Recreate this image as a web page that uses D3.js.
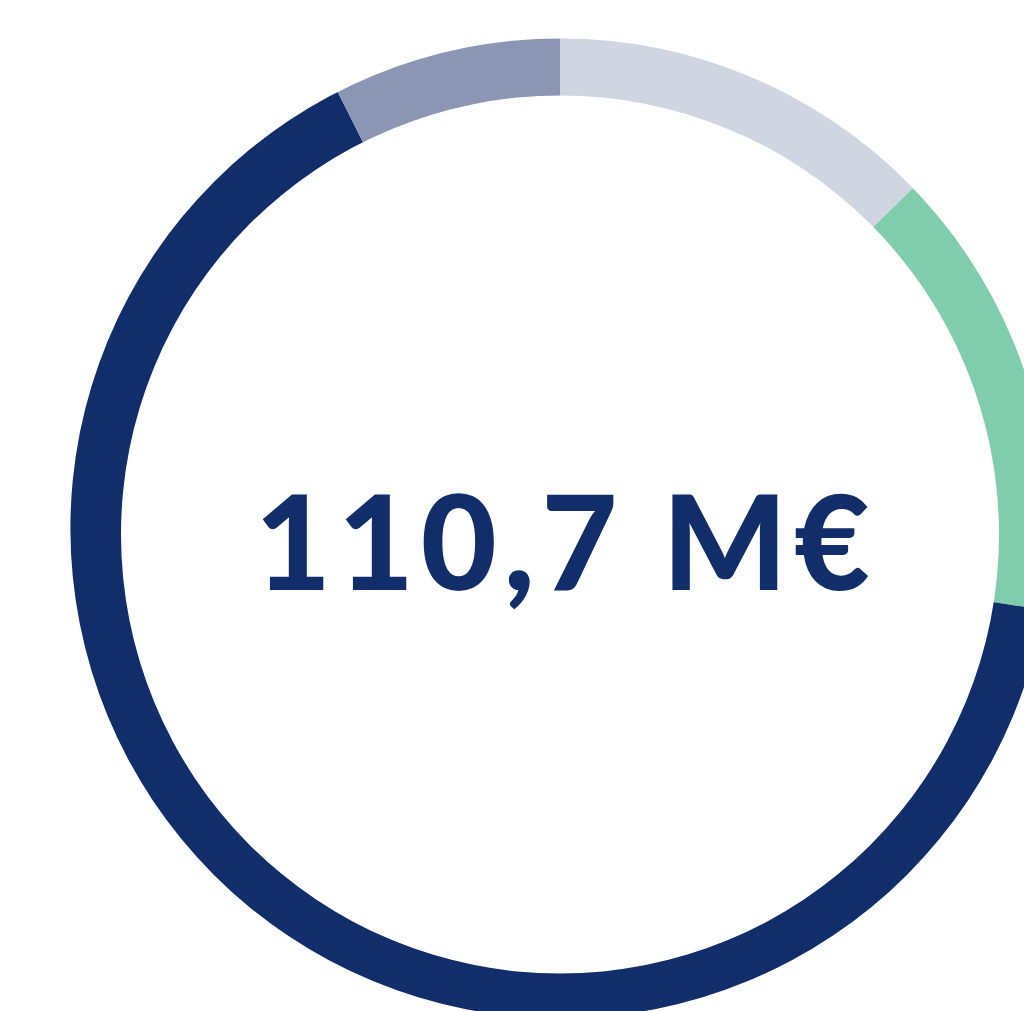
<!DOCTYPE html>
<html>
<head>
<meta charset="utf-8">
<script src="https://cdn.jsdelivr.net/npm/d3@7"></script>
<style>
  html, body { margin: 0; padding: 0; background: #ffffff; overflow: hidden; }
  svg { display: block; }
</style>
</head>
<body>
<svg id="chart" width="1024" height="1011"></svg>
<script>
// Data (M€), clockwise from 12 o'clock
const categories = ["Segment A", "Segment B", "Segment C", "Segment D"];
const values = [14.0, 16.4, 72.1, 8.2];
const colors = ["#d0d5e2", "#80cdae", "#112d6a", "#8a96b3"];
const totalLabel = "110,7 M€";

const svg = d3.select("#chart");

// Geometry: ring built from an outer circle and an inner (hole) circle
const inner = { cx: 560, cy: 534.5, r: 439 };
const outer = { cx: 560.4, cy: 528.4, r: 490 };

const defs = svg.append("defs");
const ringPath = d3.path();
ringPath.moveTo(outer.cx + outer.r, outer.cy);
ringPath.arc(outer.cx, outer.cy, outer.r, 0, 2 * Math.PI);
ringPath.closePath();
ringPath.moveTo(inner.cx + inner.r, inner.cy);
ringPath.arc(inner.cx, inner.cy, inner.r, 0, 2 * Math.PI);
ringPath.closePath();
defs.append("clipPath").attr("id", "ringClip")
  .append("path")
  .attr("d", ringPath.toString())
  .attr("clip-rule", "evenodd");

const pie = d3.pie().sort(null).value(d => d).startAngle(0).endAngle(2 * Math.PI);
const arc = d3.arc().innerRadius(0).outerRadius(560);

const color = d3.scaleOrdinal().domain(categories).range(colors);

svg.append("g")
  .attr("clip-path", "url(#ringClip)")
  .append("g")
  .attr("transform", `translate(${inner.cx},${inner.cy})`)
  .selectAll("path")
  .data(pie(values))
  .join("path")
  .attr("d", arc)
  .attr("fill", (d, i) => color(categories[i]));

svg.append("text")
  .attr("x", 562.5)
  .attr("y", 590)
  .attr("text-anchor", "middle")
  .attr("font-family", "Lato, 'DejaVu Sans', sans-serif")
  .attr("font-weight", 900)
  .attr("font-size", 131)
  .attr("textLength", 615)
  .attr("lengthAdjust", "spacing")
  .attr("fill", "#112d6a")
  .text(totalLabel);
</script>
</body>
</html>
